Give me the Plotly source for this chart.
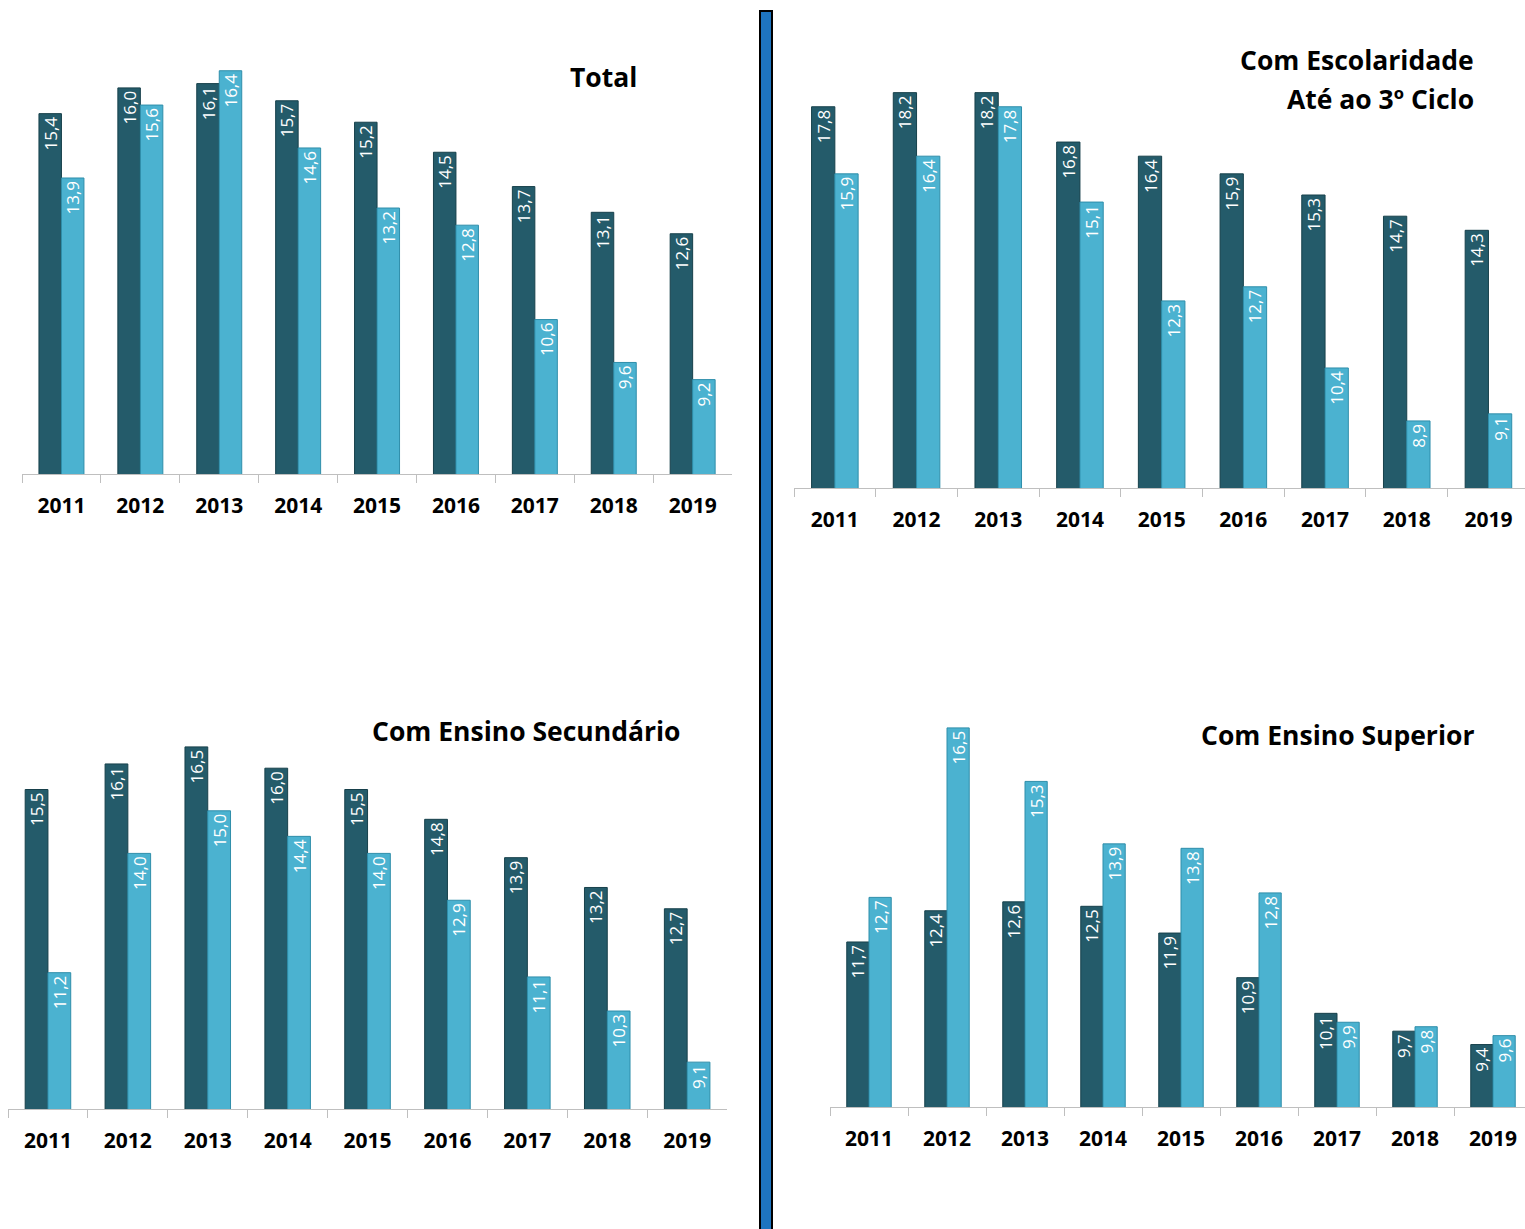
import plotly.graph_objects as go

W, H = 1525, 1229

years = ["2011", "2012", "2013", "2014", "2015", "2016", "2017", "2018", "2019"]

total_dark = [15.4, 16.0, 16.1, 15.7, 15.2, 14.5, 13.7, 13.1, 12.6]
total_light = [13.9, 15.6, 16.4, 14.6, 13.2, 12.8, 10.6, 9.6, 9.2]

esc_dark = [17.8, 18.2, 18.2, 16.8, 16.4, 15.9, 15.3, 14.7, 14.3]
esc_light = [15.9, 16.4, 17.8, 15.1, 12.3, 12.7, 10.4, 8.9, 9.1]

sec_dark = [15.5, 16.1, 16.5, 16.0, 15.5, 14.8, 13.9, 13.2, 12.7]
sec_light = [11.2, 14.0, 15.0, 14.4, 14.0, 12.9, 11.1, 10.3, 9.1]

sup_dark = [11.7, 12.4, 12.6, 12.5, 11.9, 10.9, 10.1, 9.7, 9.4]
sup_light = [12.7, 16.5, 15.3, 13.9, 13.8, 12.8, 9.9, 9.8, 9.6]

DARK = "#245b6a"
DARK_LINE = "#17404b"
LIGHT = "#4bb2d0"
LIGHT_LINE = "#2f8eaa"
FONT = "Open Sans"

panels = [
    dict(d=total_dark, l=total_light, x0=22, x1=732, yb=474, yt=30, vmin=7.0, ppu=42.9, sp=78.9),
    dict(d=esc_dark, l=esc_light, x0=794, x1=1525, yb=488, yt=30, vmin=7.0, ppu=35.3, sp=81.7),
    dict(d=sec_dark, l=sec_light, x0=8, x1=727, yb=1109, yt=680, vmin=8.0, ppu=42.6, sp=79.9),
    dict(d=sup_dark, l=sup_light, x0=830, x1=1525, yb=1107, yt=680, vmin=8.0, ppu=44.6, sp=78.0),
]

def fmt(v):
    return f"{v:.1f}".replace(".", ",")

fig = go.Figure()
layout = {}
for i, p in enumerate(panels, start=1):
    xa = "x" if i == 1 else f"x{i}"
    ya = "y" if i == 1 else f"y{i}"
    for vals, col, lc in ((p["d"], DARK, DARK_LINE), (p["l"], LIGHT, LIGHT_LINE)):
        fig.add_trace(go.Bar(
            x=years, y=vals, xaxis=xa, yaxis=ya,
            marker=dict(color=col, line=dict(color=lc, width=1)),
            text=[fmt(v) for v in vals],
            textposition="inside", insidetextanchor="end", textangle=-90,
            constraintext="none",
            insidetextfont=dict(color="white", size=17, family=FONT),
            showlegend=False, hoverinfo="skip",
        ))
    xspan = (p["x1"] - p["x0"]) / p["sp"]
    ytop = p["vmin"] + (p["yb"] - p["yt"]) / p["ppu"]
    layout["xaxis" if i == 1 else f"xaxis{i}"] = dict(
        domain=[p["x0"] / W, p["x1"] / W], anchor=ya, type="category",
        range=[-0.5, -0.5 + xspan], showline=True, linecolor="#bfbfbf", linewidth=1,
        ticks="outside", tickson="boundaries", ticklen=8, tickcolor="#bfbfbf",
        showgrid=False, zeroline=False, ticklabelstandoff=13,
        tickfont=dict(family=FONT, size=21, color="black", weight="bold"),
        fixedrange=True,
    )
    layout["yaxis" if i == 1 else f"yaxis{i}"] = dict(
        domain=[1 - p["yb"] / H, 1 - p["yt"] / H], anchor=xa,
        range=[p["vmin"], ytop], visible=False, showgrid=False, fixedrange=True,
    )

ann = [
    dict(text="Total", x=603 / W, y=1 - 77 / H, xanchor="center"),
    dict(text="Com Escolaridade", x=1476 / W, y=1 - 60 / H, xanchor="right"),
    dict(text="Até ao 3º Ciclo", x=1476 / W, y=1 - 99 / H, xanchor="right"),
    dict(text="Com Ensino Secundário", x=526 / W, y=1 - 731 / H, xanchor="center"),
    dict(text="Com Ensino Superior", x=1337 / W, y=1 - 735 / H, xanchor="center"),
]
for a in ann:
    a.update(xref="paper", yref="paper", showarrow=False, yanchor="middle",
             font=dict(family=FONT, size=26.5, color="black", weight="bold"))

fig.update_layout(
    width=W, height=H, margin=dict(l=0, r=0, t=0, b=0),
    paper_bgcolor="white", plot_bgcolor="white",
    barmode="group", bargap=0.43, bargroupgap=0,
    annotations=ann,
    shapes=[dict(type="rect", xref="paper", yref="paper",
                 x0=760 / W, x1=772 / W, y0=-0.01, y1=1 - 11 / H,
                 fillcolor="#1e74bf", line=dict(color="black", width=2), layer="above")],
    **layout,
)

fig.write_html("out.html")
